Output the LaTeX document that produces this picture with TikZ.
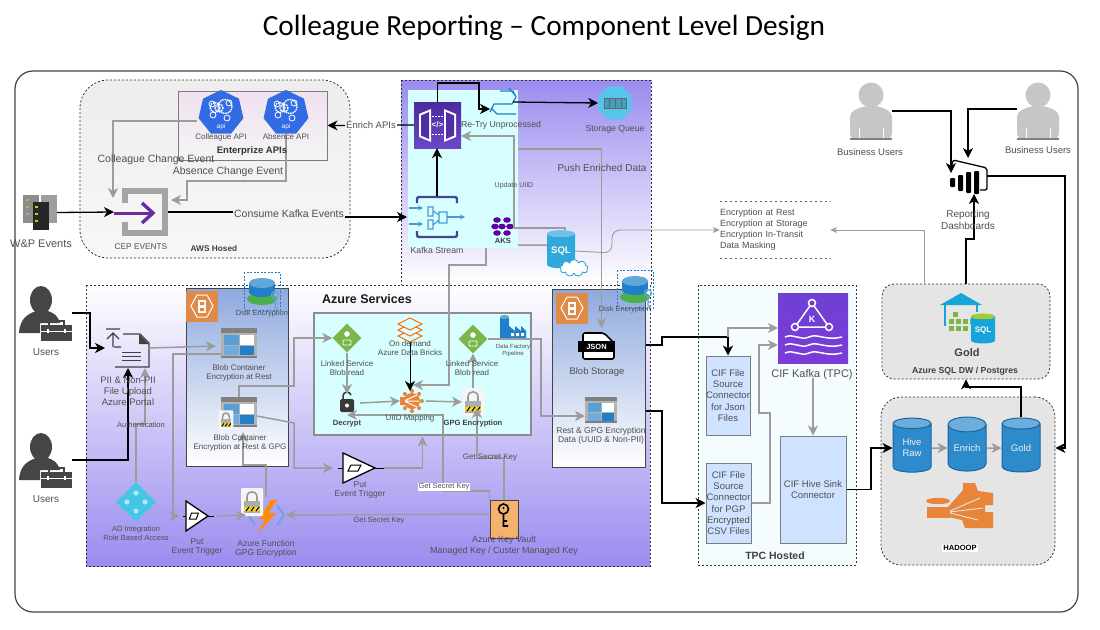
\documentclass[tikz,border=0pt]{standalone}
\usepackage{fontspec}
\setmainfont{Liberation Sans}
\newfontfamily\titlefont{Carlito}
\usetikzlibrary{shapes,arrows,arrows.meta}
\definecolor{txtgray}{HTML}{505050}
\definecolor{linegray}{HTML}{9C9C9C}
\definecolor{darkframe}{HTML}{444444}
\definecolor{violetband}{HTML}{9A8CEF}
\definecolor{paleaqua}{HTML}{D8FFFF}
\definecolor{panelblue}{HTML}{8FA9DE}
\definecolor{boxblue}{HTML}{CFE2FF}
\definecolor{kubeblue}{HTML}{326CE5}
\definecolor{gatedark}{HTML}{4B2A9E}
\definecolor{gatelight}{HTML}{6C46C8}
\definecolor{kafkadark}{HTML}{6F40D4}
\definecolor{kafkalight}{HTML}{7A3CD8}
\definecolor{azblue}{HTML}{1F7FC8}
\definecolor{skyblue}{HTML}{2FA8DC}
\definecolor{hiveblue}{HTML}{2D8ACB}
\definecolor{linkgreen}{HTML}{7AB648}
\definecolor{orangebox}{HTML}{E08A46}
\definecolor{keyorange}{HTML}{F3B26E}
\definecolor{toolgray}{HTML}{454545}
\definecolor{bizgray}{HTML}{C6C6C6}
\definecolor{cepgray}{HTML}{A4A4A4}
\definecolor{cepviolet}{HTML}{6A2C9E}
\definecolor{queuecyan}{HTML}{55C5EA}
\definecolor{adcyan}{HTML}{45C6E6}
\definecolor{hadooporange}{HTML}{E8853A}
\begin{document}
\begin{tikzpicture}[x=1pt,y=-1pt,
    iconbox/.style={inner sep=0pt,outer sep=0pt},
    lbl/.style={font=\fontsize{9.5}{11}\selectfont,text=txtgray,align=center,inner sep=0pt},
    lblsm/.style={font=\fontsize{8}{9}\selectfont,text=txtgray,align=center,inner sep=0pt},
    lblbd/.style={font=\fontsize{7.6}{8.5}\selectfont\bfseries,text=black!75,align=center,inner sep=0pt},
    lblbig/.style={font=\fontsize{10.5}{12}\selectfont,text=txtgray,align=center,inner sep=0pt},
    dashzone/.style={draw=black!80,dash pattern=on 2pt off 2pt,line width=0.8pt},
    panelzone/.style={draw=darkframe,line width=1pt,top color=panelblue,bottom color=white,inner sep=0pt},
    cifbox/.style={draw=darkframe!70,line width=1pt,fill=boxblue,inner sep=0pt,align=center,text=txtgray,
       font=\fontsize{9.5}{11.3}\selectfont},
    hivecyl/.style={cylinder,shape border rotate=90,aspect=0.55,draw=azblue!80!black,line width=1pt,
       cylinder uses custom fill,cylinder body fill=hiveblue,cylinder end fill=hiveblue!70,
       minimum width=38pt,minimum height=54pt,inner sep=0pt,align=center,text=white!90!gray,
       font=\fontsize{9.5}{11}\selectfont},
    blkarrow/.style={draw=black,line width=1.3pt,-{Stealth[length=10pt,width=10pt,inset=3pt]}},
    gryarrow/.style={draw=linegray,line width=1.5pt,-{Stealth[length=10pt,width=10pt,inset=3pt]}},
    gryline/.style={draw=linegray,line width=1.5pt},
    thnarrow/.style={draw=linegray,line width=0.9pt,-{Stealth[length=7pt,width=6pt,inset=2pt]}},
    usericon/.pic={
       \fill[toolgray] (-5,-16) ellipse (11 and 14);
       \fill[toolgray] (-27,17) .. controls (-26,2) and (-18,-2) .. (-10,-5) -- (2,-5)
          .. controls (8,-3) and (12,0) .. (14,7) -- (-6,7) -- (-6,17) -- cycle;
       \fill[toolgray] (-5,9) rectangle (26,25);
       \draw[toolgray,line width=1.2pt] (3,9) -- (3,5) -- (18,5) -- (18,9);
       \draw[white,line width=0.8pt] (-5,15) -- (26,15);
       \draw[white,line width=1.2pt] (2,13) -- (2,17) (19,13) -- (19,17);
    },
    bizicon/.pic={
       \fill[bizgray] (0,-23) circle (12.5);
       \fill[bizgray,rounded corners=5pt] (-21,21) -- (-21,-6) -- (-7,-12) -- (7,-12) -- (21,-6) -- (21,21) -- cycle;
       \fill[black!50] (-21,20) rectangle (21,22);
       \draw[white,line width=0.6pt] (-12,10) -- (-12,20) (12,10) -- (12,20);
    },
    tableicon/.pic={
       \fill[black!50] (-18,-15) rectangle (18,15);
       \fill[black!30] (-18,-10) rectangle (18,13);
       \fill[azblue!75] (-15,-8) rectangle (0,2);
       \fill[white] (1,-8) rectangle (15,2);
       \fill[azblue!65] (-15,3) rectangle (0,12);
       \fill[azblue] (1,3) rectangle (15,12);
    },
    lockicon/.pic={
       \fill[white!92!gray,rounded corners=1pt] (-11,-14) rectangle (11,14);
       \draw[black!40,line width=1.6pt] (-5,-1) -- (-5,-5) .. controls (-5,-12) and (5,-12) .. (5,-5) -- (5,-1);
       \fill[black!32] (-8,-1) rectangle (8,11);
       \fill[yellow!75!orange] (-8,5) rectangle (8,9);
       \draw[black,line width=1pt] (-6,9) -- (-3,5) (-1,9) -- (2,5) (4,9) -- (7,5);
    },
    triggericon/.pic={
       \draw[black,line width=1pt] (-21,0) -- (-16,0) (16,0) -- (25,0);
       \draw[black,line width=1.3pt,fill=white] (-16,-15) -- (16,0) -- (-16,15) -- cycle;
       \draw[black,line width=1pt] (-8,-3) -- (2,-3) -- (-1,3) -- (-11,3) -- cycle;
    },
    hexicon/.pic={
       \fill[orangebox] (-16,-15.5) rectangle (16,15.5);
       \draw[white,line width=1pt] (-11,0) -- (-5,-11) -- (5,-11) -- (11,0) -- (5,11) -- (-5,11) -- cycle;
       \fill[white] (-4,-6) rectangle (4,7);
       \fill[orangebox] (-2,-4) rectangle (2,-1) (-2,2) rectangle (2,5);
    },
    diskicon/.pic={
       \draw[azblue,dash pattern=on 2pt off 1.5pt,line width=0.8pt] (-18,-19) rectangle (18,19);
       \fill[green!55!black!70] (0,8) ellipse (15 and 6);
       \fill[azblue] (-13,-8) rectangle (13,1);
       \fill[azblue] (0,1) ellipse (13 and 5);
       \fill[azblue!70] (0,-8) ellipse (13 and 5);
       \draw[azblue!70,line width=1.2pt] (13,4) circle (3.5) (13,7) -- (13,17) -- (16,17) (13,13) -- (16,13);
    },
    kubeicon/.pic={
       \foreach \p/\s in {-6/5,4/7,-2/4}{
          \draw[white,line width=1.4pt,dash pattern=on 1.5pt off 0.8pt] (\p,{-3-\s*0.5}) circle (\s);
       }
       \draw[white,line width=0.8pt] (-9,-9) circle (3) (8,-10) circle (3) (6,5) circle (3) (-8,2) circle (3);
       \node[font=\fontsize{6.5}{7}\selectfont,text=white,inner sep=0pt] (kubetxt) at (0,14) {api};
    }
    ]
%Keep the page as large as the screenshot
\useasboundingbox (0,0) rectangle (1100,629);
\fill[white] (0,0) rectangle (1100,629);

\node[font=\titlefont\fontsize{29.3}{32}\selectfont,inner sep=0pt] (title) at (544,28) {Colleague Reporting – Component Level Design};

%Outer frame
\draw[darkframe,line width=1.2pt,rounded corners=18pt] (15,71) rectangle (1078,612);

%The zones, back to front
\draw[dashzone,top color=black!7,bottom color=black!3,rounded corners=28pt] (80,80) rectangle (350,258);
\draw[dashzone,top color=violetband,bottom color=white] (401,80) rectangle (651,285);
\draw[dashzone,top color=white,bottom color=violetband] (86,285) rectangle (650,566);
\fill[paleaqua] (408,90) rectangle (518,248);
\node[iconbox,minimum width=110pt,minimum height=158pt] (cyantop) at (463,169) {};
\node[draw=darkframe!70,line width=1pt,top color=violet!12,bottom color=black!4,minimum width=149pt,minimum height=69pt,inner sep=0pt] (entapi) at (252.5,125.5) {};
\node[panelzone,minimum width=102pt,minimum height=178pt] (pan1) at (237,377) {};
\node[panelzone,minimum width=93pt,minimum height=178pt] (pan2) at (598.5,378) {};
\node[draw=black!45,line width=1.2pt,fill=paleaqua,minimum width=217pt,minimum height=122pt,inner sep=0pt] (azbox) at (422.5,374) {};
\draw[dashzone,fill=cyan!4!white] (698,285) rectangle (856,565);
\node[dashzone,fill=black!10,rounded corners=12pt,minimum width=168pt,minimum height=95pt,inner sep=0pt] (goldbox) at (966,331.5) {};
\node[dashzone,fill=black!10,rounded corners=20pt,minimum width=174pt,minimum height=168pt,inner sep=0pt] (hadoopbox) at (968,481) {};

%Enterprise APIs and the events
\foreach \n/\xc in {api1/221,api2/286}
{
   \node[regular polygon,regular polygon sides=7,fill=kubeblue,minimum size=46pt,inner sep=0pt] (\n) at (\xc,113) {};
   \pic at (\xc,113) {kubeicon};
}
\node[iconbox,minimum width=34pt,minimum height=35pt] (server) at (40,212.5) {};
\fill[black!45] (23,195) rectangle (39,223);
\fill[black!38] (41,195) rectangle (57,223);
\fill[black!85] (33,202) rectangle (49,230);
\foreach \yy in {206,213,220}
{
   \fill[yellow!70!green] (35,\yy) rectangle (38,{\yy+2});
   \fill[yellow!60!green!60!gray] (26,{\yy-7}) rectangle (29,{\yy-5});
}
\node[iconbox,minimum width=46pt,minimum height=48pt] (cep) at (145,212) {};
\draw[cepgray,line width=6pt] (125,203) -- (125,191) -- (165,191) -- (165,233) -- (125,233) -- (125,222);
\draw[cepviolet,line width=3pt] (114,213) -- (152,213);
\draw[cepviolet,line width=3.4pt] (142,203) -- (153,213) -- (142,223);

%Gateway, retry, queue, stream, AKS, SQL
\node[top color=gatedark,bottom color=gatelight,minimum width=47pt,minimum height=46pt,inner sep=0pt] (gateway) at (437.5,125) {};
\fill[white] (419,114) -- (431,109) -- (431,142) -- (419,137) -- cycle;
\fill[white] (456,114) -- (444,109) -- (444,142) -- (456,137) -- cycle;
\fill[gatedark!85!gatelight] (421,115.5) -- (429,112) -- (429,139) -- (421,135.5) -- cycle;
\fill[gatedark!85!gatelight] (454,115.5) -- (446,112) -- (446,139) -- (454,135.5) -- cycle;
\node[font=\fontsize{8}{9}\selectfont\bfseries,text=white,inner sep=0pt] (gatetxt) at (437.5,125) {</>};
\draw[white,dash pattern=on 1.5pt off 1.5pt,line width=0.9pt] (432,116) -- (443,116) (432,134) -- (443,134);
\node[iconbox,minimum width=28pt,minimum height=26pt] (retry) at (504,102) {};
\draw[azblue,line width=1.2pt] (490,112) -- (494,104) -- (512,104) -- (516,97) (516,97) -- (513,91) -- (500,91) (509,88) -- (516,96.5) (491,108) -- (497,114) -- (516,114);
\node[regular polygon,regular polygon sides=8,fill=queuecyan,minimum size=36pt,inner sep=0pt] (queue) at (615,103) {};
\draw[black!60,line width=1pt,fill=queuecyan!80!black] (604,98) rectangle (626,108);
\draw[black!60,line width=0.9pt] (609,98) -- (609,108) (615,98) -- (615,108) (621,98) -- (621,108);
\node[iconbox,minimum width=42pt,minimum height=42pt] (kstream) at (437,217) {};
\draw[black!35!blue!45!gray,line width=2.4pt,rounded corners=2pt] (417,203) -- (417,197) -- (457,197) -- (457,203) (417,231) -- (417,237) -- (457,237) -- (457,231);
\draw[azblue!80,line width=1.4pt,-{Stealth[length=5pt,width=5pt]}] (409,208) -- (423,208);
\draw[azblue!80,line width=1.4pt,-{Stealth[length=5pt,width=5pt]}] (409,224) -- (423,224);
\draw[azblue!80,line width=1.4pt,-{Stealth[length=5pt,width=5pt]}] (447,217) -- (465,217);
\draw[azblue!80,line width=1.2pt] (428,207) rectangle (433,216) (428,220) rectangle (433,229) (439,212) rectangle (447,223) (433,211) -- (439,215) (433,225) -- (439,220);
\node[iconbox,minimum width=22pt,minimum height=20pt] (aks) at (502,228) {};
\foreach \ax/\ay in {497/220,507/220,495/226.5,502/226.5,510/226.5,497/233,507/233}
{
   \fill[violet!75!blue] (\ax,\ay) ellipse (3.8 and 2.8);
}
\node[cylinder,shape border rotate=90,aspect=0.35,cylinder uses custom fill,cylinder body fill=skyblue,cylinder end fill=skyblue!70,minimum width=28pt,minimum height=38pt,inner sep=0pt,font=\fontsize{9.5}{11}\selectfont\bfseries,text=white] (sql) at (561,251) {SQL};
\node[cloud,cloud puffs=9,aspect=1.5,draw=skyblue,line width=0.9pt,fill=white,minimum width=28pt,minimum height=17pt,inner sep=0pt] (sqlcloud) at (574,268) {};

%Upload, blob containers
\pic at (46,316) {usericon};
\node[iconbox,minimum width=52pt,minimum height=52pt] (users1) at (46,316) {};
\pic at (46,463) {usericon};
\node[iconbox,minimum width=52pt,minimum height=52pt] (users2) at (46,463) {};
\node[iconbox,minimum width=36pt,minimum height=36pt] (upload) at (131,350) {};
\draw[black!75,line width=1.2pt] (121,347) -- (114,347) (115,367) -- (149,367) -- (149,343) -- (140,334) -- (123,334);
\fill[black!75] (139,334) -- (149,344) -- (139,344) -- cycle;
\draw[black!75,line width=1pt] (122,352) -- (141,352) (122,356) -- (141,356) (122,360) -- (141,360);
\draw[black!75,line width=1.4pt] (106,329) -- (120,329) (113,347) -- (113,334) (107,339) -- (113,333) -- (119,339);
\node[diamond,fill=adcyan,minimum size=40pt,inner sep=0pt] (ad) at (136,502) {};
\foreach \ax/\ay in {136/493,127/502,145/502,136/511}
{
   \fill[white!70!cyan] (\ax,\ay) circle (2.6);
}
\pic at (202,306) {hexicon};
\pic at (262,291) {diskicon};
\pic at (239,343) {tableicon};
\node[iconbox,minimum width=36pt,minimum height=30pt] (table1) at (239,343) {};
\pic at (239,412) {tableicon};
\node[iconbox,minimum width=36pt,minimum height=30pt] (table2) at (239,412) {};
\pic[scale=0.68] at (226,420) {lockicon};
\pic[xscale=0.69] at (197,516) {triggericon};
\node[iconbox,minimum width=23pt,minimum height=30pt] (trig1) at (197,516) {};
\node[iconbox,minimum width=40pt,minimum height=36pt] (afunc) at (266,515) {};
\draw[azblue!70,line width=1.6pt] (255,505) -- (248,515) -- (255,525) (277,505) -- (284,515) -- (277,525);
\fill[orange!90!yellow] (271,500) -- (259,519) -- (265,519) -- (258,533) -- (276,513) -- (268,513) -- (277,500) -- cycle;
\pic at (252,502) {lockicon};

%Azure box
\node[diamond,fill=linkgreen,minimum size=29pt,inner sep=0pt] (linked1) at (347,338) {};
\node[diamond,fill=linkgreen,minimum size=29pt,inner sep=0pt] (linked2) at (473,339) {};
\foreach \xc/\yc in {347/338,473/339}
{
   \fill[white] (\xc,{\yc-4}) circle (2.8);
   \draw[white,line width=0.8pt,rounded corners=1pt] ({\xc-4},{\yc+2}) rectangle ({\xc+4},{\yc+7});
}
\node[iconbox,minimum width=24pt,minimum height=24pt] (bricks) at (410,330) {};
\foreach \yy in {6,0,-6}
{
   \draw[orange!85!red,line width=1pt,fill=paleaqua] (398,{330+\yy}) -- (410,{324+\yy}) -- (422,{330+\yy}) -- (410,{336+\yy}) -- cycle;
}
\node[iconbox,minimum width=26pt,minimum height=24pt] (factory) at (513,327) {};
\fill[azblue] (500,318) rectangle (509,339);
\fill[azblue!70] (504.5,317) ellipse (4.5 and 2);
\fill[azblue] (509,339) -- (509,326) -- (515,331) -- (515,326) -- (521,331) -- (521,326) -- (526,331) -- (526,339) -- cycle;
\fill[white] (511,333) rectangle (514,336) (516,333) rectangle (519,336) (521,333) rectangle (524,336);
\node[iconbox,minimum width=14pt,minimum height=18pt] (decrypt) at (347,403) {};
\fill[black!78,rounded corners=1.5pt] (340,399) rectangle (354,412);
\draw[black!78,line width=1.5pt] (343,399) -- (343,396) .. controls (343,391) and (350,391) .. (351,395);
\fill[white] (347,405.5) circle (2);
\node[iconbox,minimum width=20pt,minimum height=20pt] (uiid) at (410,401) {};
\fill[hadooporange] (412,401) circle (8);
\foreach \ax in {0,45,...,315}
{
   \fill[hadooporange] (412,401) ++(\ax:10) circle (2);
}
\draw[white,line width=1pt] (404,401) -- (417,395) (404,401) -- (419,401) (404,401) -- (417,407);
\fill[hadooporange] (400,397) rectangle (405,405);
\pic at (473,402) {lockicon};
\node[iconbox,minimum width=22pt,minimum height=28pt] (gpg) at (473,402) {};
\pic at (359,468) {triggericon};
\node[iconbox,minimum width=32pt,minimum height=30pt] (trig2) at (359,468) {};
\node[draw=darkframe,line width=1pt,fill=keyorange,minimum width=28pt,minimum height=38pt,inner sep=0pt] (vault) at (504,519) {};
\draw[black,line width=1.6pt] (503.5,509) circle (5) (503.5,514) -- (503.5,526) -- (508,526) (503.5,521) -- (507,521);
\fill[black] (503.5,508) circle (1.2);

%Second panel
\pic at (572,308) {hexicon};
\pic at (635,289) {diskicon};
\node[iconbox,minimum width=37pt,minimum height=28pt] (json) at (596.5,346) {};
\draw[black,line width=1.6pt,fill=white,rounded corners=2pt] (583,333) -- (604,333) -- (614,343) -- (614,359) -- (583,359) -- cycle;
\fill[black] (578,341) rectangle (615,352);
\node[font=\fontsize{7.5}{8}\selectfont\bfseries,text=white,inner sep=0pt] (jsontxt) at (596.5,346.5) {JSON};
\pic[scale=0.88] at (601,410) {tableicon};
\node[iconbox,minimum width=32pt,minimum height=28pt] (table3) at (601,410) {};

%TPC
\node[top color=kafkadark,bottom color=kafkalight,minimum width=70pt,minimum height=70pt,inner sep=0pt] (kafka) at (813,328) {};
\draw[white,line width=1.5pt,fill=kafkadark] (812,303) -- (829,327) -- (795,327) -- cycle;
\foreach \ax/\ay in {812/303,829/327,795/327}
{
   \draw[white,line width=1.5pt,fill=kafkadark] (\ax,\ay) circle (3.5);
}
\node[font=\fontsize{9}{10}\selectfont\bfseries,text=white,inner sep=0pt] (kafkak) at (812,319) {K};
\foreach \yy in {337,345,353}
{
   \draw[white,line width=1.5pt] (785,\yy) .. controls (794,{\yy-4}) and (800,{\yy+4}) .. (809,\yy) .. controls (818,{\yy-4}) and (824,{\yy+4}) .. (842,\yy);
}
\node[cifbox,minimum width=44pt,minimum height=79pt] (cif1) at (728,395.5) {CIF File\\Source\\Connector\\for Json\\Files};
\node[cifbox,minimum width=45pt,minimum height=80pt] (cif2) at (728.5,503) {CIF File\\Source\\Connector\\for PGP\\Encrypted\\CSV Files};
\node[cifbox,minimum width=66pt,minimum height=107pt] (sink) at (813,489.5) {CIF Hive Sink\\Connector};

%Gold and Hadoop
\fill[azblue!70!cyan] (940,305) -- (961,293) -- (982,305) -- cycle;
\draw[azblue!70!cyan,line width=1.6pt] (945,305) -- (945,326) (977,305) -- (977,312);
\foreach \ax/\ay in {953/312,949/319,956/319,963/319,949/326,956/326,963/326,970/319}
{
   \fill[linkgreen] (\ax,\ay) rectangle ({\ax+5},{\ay+5});
}
\node[cylinder,shape border rotate=90,aspect=0.35,cylinder uses custom fill,cylinder body fill=azblue!70!cyan,cylinder end fill=linkgreen!70!yellow,minimum width=24pt,minimum height=30pt,inner sep=0pt,font=\fontsize{8}{9}\selectfont\bfseries,text=white] (dwsql) at (983,330) {SQL};
\node[hivecyl] (hiveraw) at (912,448) {Hive\\Raw};
\node[hivecyl] (enrich) at (967,448) {Enrich};
\node[hivecyl] (goldcyl) at (1021,448) {Gold};
\node[iconbox,minimum width=66pt,minimum height=46pt] (hadoopic) at (960,505) {};
\fill[hadooporange] (938,501) ellipse (12 and 3.2);
\fill[hadooporange] (927,507) rectangle (950,518);
\fill[hadooporange] (948,507) -- (963,490) -- (963,483) -- (975,483) -- (978,491) -- (993,493) -- (993,505) -- (985,505) -- (985,512) -- (993,512) -- (993,528) -- (965,528) -- (962,520) -- (948,517) -- cycle;
\draw[black!10,line width=0.9pt] (950,511) -- (980,498) (950,512) -- (983,508) (950,513) -- (978,520);

%Reporting side
\pic at (871,118) {bizicon};
\node[iconbox,minimum width=42pt,minimum height=50pt] (busers1) at (871,118) {};
\pic at (1038,118) {bizicon};
\node[iconbox,minimum width=42pt,minimum height=50pt] (busers2) at (1038,118) {};
\node[iconbox,minimum width=38pt,minimum height=36pt] (dash) at (968,176) {};
\draw[black,line width=1.3pt,rounded corners=2pt] (951,169) -- (953,160) -- (987,168) -- (987,190) -- (980,190);
\fill[black,rounded corners=1pt] (950,178) rectangle (955,187) (958,175) rectangle (963,191) (966,172) rectangle (971,193) (974,171) rectangle (979,194);
\node[lbl,text width=110pt,align=left,minimum height=57pt,font=\fontsize{9}{11}\selectfont] (note) at (775,230) {Encryption at Rest\\Encryption at Storage\\Encryption In-Transit\\Data Masking};
\draw[black!60,dash pattern=on 2.5pt off 2.5pt,line width=0.7pt] (note.north west) -- (note.north east) (note.south west) -- (note.south east);

%Connectors
\draw[gryarrow] ([xshift=-3pt,yshift=-8pt]api1.west) -| (113,198);
\draw[gryarrow] (api2.south) |- (187,181) |- ([xshift=3pt,yshift=12pt]cep.east);
\draw[blkarrow] (server.east) -- ([xshift=-8pt]cep.west);
\draw[blkarrow] (cep.east) -- (290,212) |- ([xshift=-9pt]kstream.west);
\draw[blkarrow] (gateway.west) -- (entapi.east);
\draw[blkarrow] (kstream.north) -- ([xshift=-0.5pt]gateway.south);
\draw[blkarrow] (gateway.north) |- (479,83) |- ([yshift=-7pt]retry.west);
\draw[blkarrow] ([xshift=-5pt]retry.east) -- (queue.west);
\draw[gryarrow] (aks.east) -- ++(1,0) |- ([yshift=-11pt]gateway.east);
\draw[gryline] (aks.east) -| ([xshift=4pt]sql.north);
\draw[gryline] ([yshift=3pt]cyantop.south east) -- ([yshift=6pt]sql.west);
\draw[gryarrow] ([yshift=20pt]cyantop.east) -| ([xshift=5pt,yshift=4pt]json.north);
\draw[gryarrow] ([xshift=23pt]cyantop.south) |- (449,265) |- ([xshift=-7pt,yshift=6pt]uiid.north east);
\draw[thnarrow,rounded corners=8pt] (sql.east) -- (612,253) -- (612,230) -- (note.west);
\draw[thnarrow] ([xshift=-42pt]goldbox.north) |- (note.east);
\draw[blkarrow] (goldbox.north) |- (974,239) -- ([xshift=6pt]dash.south);
\draw[blkarrow] ([yshift=7pt]busers1.east) -| ([xshift=-17pt,yshift=-15pt]dash.north);
\draw[blkarrow] ([yshift=9pt]busers2.west) -| (dash.north);
\draw[blkarrow] (dash.east) -- (1065,176) |- ([yshift=33pt]hadoopbox.east);

\draw[blkarrow] ([yshift=3pt]users1.east) -- (90,313) |- ([xshift=-8pt,yshift=2pt]upload.west);
\draw[blkarrow] ([yshift=3pt]users2.east) -| ([xshift=-3pt]upload.south);
\draw[gryarrow] (ad.north) -- (136,424) -| ([xshift=14pt]upload.south);
\draw[gryarrow] ([yshift=2pt]upload.east) -- ([xshift=-5pt,yshift=-3pt]table1.west);
\draw[gryarrow] ([yshift=-11pt]table1.west) -- (173,354) |- ([xshift=-6pt]trig1.west);
\draw[gryarrow] ([xshift=8pt]trig1.east) -- (afunc.west);
\draw[gryarrow] (afunc.north) |- (243,465) -- ([xshift=4pt,yshift=-5pt]table2.south);
\draw[gryarrow] (table2.north) |- (294,386) |- (linked1.west);
\draw[gryarrow] ([yshift=-4pt]table2.east) -- (294,423) |- ([xshift=-10pt]trig2.west);
\draw[gryarrow] ([xshift=9pt]trig2.east) -| ([yshift=-1pt]azbox.south);
\draw[gryarrow] (linked1.south) -- (decrypt.north);
\draw[blkarrow,line width=1pt] (bricks.south) -- (uiid.north);
\draw[gryarrow] ([xshift=6pt]decrypt.east) -- (uiid.west);
\draw[gryarrow] ([xshift=6pt]uiid.east) -- (gpg.west);
\draw[gryarrow] (gpg.north) -- (linked2.south);
\draw[gryarrow] (linked2.east) -- (541,339) |- ([yshift=-6pt]table3.west);
\draw[gryarrow] (vault.north) |- (477,458) -- ([xshift=4pt,yshift=8pt]gpg.south);
\draw[gryarrow] (vault.north west) |- (443,491) |- ([yshift=-3pt]decrypt.south);
\draw[gryarrow] ([yshift=5pt]vault.west) -- (afunc.east);

\coordinate (cifsplit) at (728,337);
\draw[blkarrow] ([yshift=33pt]pan2.east) -- (662,345) |- (cifsplit) -- (cif1.north);
\draw[blkarrow] ([yshift=-33pt]pan2.east) -- (662,411) |- (cif2.west);
\draw[gryarrow] (cifsplit) |- (kafka.west);
\draw[gryarrow] (cif2.east) -- (770,503) |- (759,413) |- ([yshift=-17pt]kafka.west);
\draw[gryarrow] ([yshift=-15pt]kafka.south) -- (sink.north);
\draw[blkarrow] (sink.east) -- (871,489.5) |- (hiveraw.west);
\draw[gryarrow] (hiveraw.east) -- (enrich.west);
\draw[gryarrow] (enrich.east) -- (goldcyl.west);
\draw[blkarrow] (goldcyl.north) |- (966,387) -- (goldbox.south);

%Labels
\node[lblsm] (lblapi1) at (221,137) {Colleague API};
\node[lblsm] (lblapi2) at (286,137) {Absence API};
\node[lbl,font=\fontsize{9.5}{11}\selectfont\bfseries,text=black!80] (lblent) at (252,151) {Enterprize APIs};
\node[lblbig] (lblcolev) at (156,160) {Colleague Change Event};
\node[lblbig] (lblabsev) at (228,172) {Absence Change Event};
\node[lblbig,font=\fontsize{11}{12}\selectfont] (lblwp) at (41,244) {W\&P Events};
\node[lblsm,font=\fontsize{8.3}{9}\selectfont] (lblcep) at (141,247) {CEP EVENTS};
\node[lblbd,font=\fontsize{8.3}{9}\selectfont\bfseries] (lblaws) at (214,249) {AWS Hosed};
\node[lblbig,fill=black!5,inner sep=1pt] (lblkafev) at (289,214) {Consume Kafka Events};
\node[lbl,fill=white,inner sep=1pt] (lblenr) at (371,125) {Enrich APIs};
\node[lblsm,font=\fontsize{8.7}{9}\selectfont] (lblretry) at (501,125) {Re-Try Unprocessed};
\node[lblsm,font=\fontsize{8.7}{9}\selectfont] (lblqueue) at (615,129) {Storage Queue};
\node[lbl,font=\fontsize{10}{11}\selectfont] (lblpush) at (602,168) {Push Enriched Data};
\node[lblsm,font=\fontsize{7}{8}\selectfont] (lblupd) at (514,186) {Update UIID};
\node[lblsm,font=\fontsize{8.7}{9}\selectfont] (lblstream) at (437,250) {Kafka Stream};
\node[lblbd] (lblaks) at (503,241) {AKS};
\node[lblbd,font=\fontsize{12.5}{14}\selectfont\bfseries,text=black!90] (lblazure) at (367,299) {Azure Services};
\node[lblsm,font=\fontsize{7.5}{8}\selectfont] (lbldisk1) at (262,314) {Disk Encryption};
\node[lblsm,font=\fontsize{7.5}{8}\selectfont] (lbldisk2) at (625,310) {Disk Encryption};
\node[lbl,font=\fontsize{10}{11}\selectfont] (lblusers1) at (46,352) {Users};
\node[lbl,font=\fontsize{10}{11}\selectfont] (lblusers2) at (46,499) {Users};
\node[lbl] (lblpii) at (128,391) {PII \& Non-PII\\File Upload\\Azure Portal};
\node[lblsm,font=\fontsize{7.5}{8}\selectfont] (lblauth) at (141,425) {Authentication};
\node[lblsm,font=\fontsize{7.5}{9}\selectfont] (lblad) at (136,533.5) {AD Integration\\Role Based Access};
\node[lblsm,text=black!70] (lblbc1) at (239,373) {Blob Container\\Encryption at Rest};
\node[lblsm,text=black!70] (lblbc2) at (240,443) {Blob Container\\Encryption at Rest \& GPG};
\node[lblsm,font=\fontsize{8.5}{9}\selectfont] (lblput1) at (197,546.5) {Put\\Event Trigger};
\node[lblsm,font=\fontsize{8.5}{9}\selectfont] (lblfunc) at (266,548.5) {Azure Function\\GPG Encryption};
\node[lblsm,text=black!70] (lblls1) at (347,368) {Linked Service\\Blob read};
\node[lblsm,text=black!70] (lblls2) at (472,368) {Linked Service\\Blob read};
\node[lblsm,text=black!70] (lbldb) at (410,348.5) {On demand\\Azure Data Bricks};
\node[lblsm,font=\fontsize{6}{7}\selectfont,text=black!70] (lbldf) at (513,351) {Data Factory\\Pipeline};
\node[lblbd] (lbldec) at (347,424) {Decrypt};
\node[lblsm,text=black!70] (lbluiid) at (410,418) {UIID Mapping};
\node[lblbd] (lblgpg) at (473,424) {GPG Encryption};
\node[lblsm,font=\fontsize{8.5}{9}\selectfont] (lblput2) at (360,489.5) {Put\\Event Trigger};
\node[lblsm,font=\fontsize{8}{9}\selectfont] (lblsk1) at (490,458) {Get Secret Key};
\node[lblsm,font=\fontsize{7.5}{9}\selectfont,fill=white,inner sep=1pt] (lblsk2) at (444,487) {Get Secret Key};
\node[lblsm,font=\fontsize{7.5}{9}\selectfont] (lblsk3) at (379,521) {Get Secret Key};
\node[lbl,font=\fontsize{9}{11}\selectfont] (lblvault) at (504,545.5) {Azure Key Vault\\Managed Key / Custer Managed Key};
\node[lbl] (lblblob) at (597,372) {Blob Storage};
\node[lblsm,font=\fontsize{8.5}{9}\selectfont] (lblrest) at (601,435.5) {Rest \& GPG Encryption\\Data (UUID \& Non-PII)};
\node[lbl,font=\fontsize{11}{12}\selectfont] (lblkafka) at (812,375) {CIF Kafka (TPC)};
\node[lblbd,font=\fontsize{10.5}{12}\selectfont\bfseries] (lbltpc) at (775,556) {TPC Hosted};
\node[lblbd,font=\fontsize{11}{12}\selectfont\bfseries] (lblgold) at (967,353) {Gold};
\node[lblbd,font=\fontsize{8.7}{10}\selectfont\bfseries] (lbldw) at (965,371) {Azure SQL DW / Postgres};
\node[lblbd,fill=white,inner sep=1.5pt,text=black] (lblhadoop) at (960,548) {HADOOP};
\node[lbl] (lblbiz1) at (870,152) {Business Users};
\node[lbl] (lblbiz2) at (1038,150) {Business Users};
\node[lbl,font=\fontsize{10}{12}\selectfont] (lblrep) at (968,220) {Reporting\\Dashboards};
\end{tikzpicture}
\end{document}
